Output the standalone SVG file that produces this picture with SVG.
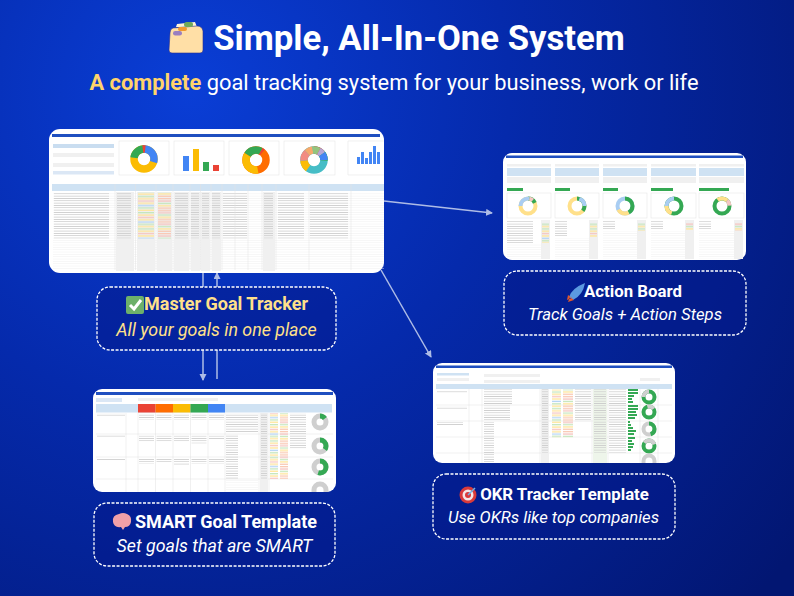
<svg xmlns="http://www.w3.org/2000/svg" width="794" height="596" viewBox="0 0 794 596">
<defs>
<radialGradient id="bg" gradientUnits="userSpaceOnUse" cx="190" cy="90" r="760"><stop offset="0" stop-color="#0a3ed6"/><stop offset="0.42" stop-color="#052aac"/><stop offset="1" stop-color="#021672"/></radialGradient>
<marker id="ah" markerWidth="8" markerHeight="8" refX="6" refY="3.500" orient="auto" markerUnits="userSpaceOnUse"><path d="M0 0L7 3.500L0 7Z" fill="#aebce6"/></marker>
<pattern id="rows" width="40" height="2.330" patternUnits="userSpaceOnUse"><rect width="40" height="0.700" fill="#c9c9c9"/></pattern>
<pattern id="grid" width="40" height="2.330" patternUnits="userSpaceOnUse"><rect width="40" height="0.400" fill="#ececec"/></pattern>
<pattern id="st" width="20" height="16.310" patternUnits="userSpaceOnUse"><rect width="20" height="1.300" fill="#c5e6bd"/><rect y="2.330" width="20" height="1.300" fill="#ffe599"/><rect y="4.660" width="20" height="1.300" fill="#f6c4bf"/><rect y="6.990" width="20" height="1.300" fill="#ffe599"/><rect y="9.320" width="20" height="1.300" fill="#b5d5f5"/><rect y="11.650" width="20" height="1.300" fill="#c5e6bd"/><rect y="13.980" width="20" height="1.300" fill="#ffe599"/></pattern>
<pattern id="pr" width="20" height="11.650" patternUnits="userSpaceOnUse"><rect width="20" height="1.300" fill="#f9c9b4"/><rect y="2.330" width="20" height="1.300" fill="#f6c4bf"/><rect y="4.660" width="20" height="1.300" fill="#c5e6bd"/><rect y="6.990" width="20" height="1.300" fill="#ffe599"/><rect y="9.320" width="20" height="1.300" fill="#f9c9b4"/></pattern>
</defs>
<style>
text{font-family:Roboto,"Liberation Sans",sans-serif}
.lab{fill:#03198a;fill-opacity:.55;stroke:#fff;stroke-width:1.3;stroke-dasharray:3 1.500}
.t{font-size:18px;font-weight:700;text-anchor:middle}
.s{font-size:17.800px;font-style:italic;text-anchor:middle}
.t2{font-size:16.800px}
.s2{font-size:16.700px}
.y{fill:#ffe08a}.w{fill:#fff}
.c{stroke:#aebce6;stroke-width:1.500;fill:none}
.scr{fill:#fff}
.hd{fill:#cfe2f3}.gr{fill:#f0f0f0}.bar{fill:#1f4fc0}
.card{fill:#fff;stroke:#e6e6e6;stroke-width:.6}
</style>
<rect width="794" height="596" fill="url(#bg)"/>
<g id="title">
<path d="M176 27L177 24L195 22L197 27Z" fill="#fff3d6"/>
<path d="M170 33Q170 29 173 28L197 26Q202 26 203 31V50Q203 53 200 53H172Q169 53 169 50Z" fill="#ffdfa6" stroke="#2a2f8f" stroke-width=".6"/>
<rect x="184" y="22" width="9" height="5" rx="2.500" fill="#6fa85a"/><rect x="178" y="27" width="9" height="4" rx="2" fill="#f29a2e"/><rect x="173" y="31" width="9" height="4.500" rx="2.200" fill="#9a7fc0"/>
<text x="419" y="50" font-size="34.700" font-weight="700" fill="#fff" text-anchor="middle">Simple, All-In-One System</text>
<text x="394" y="90" font-size="21.850" fill="#fff" text-anchor="middle"><tspan font-weight="700" fill="#ffd36b">A complete</tspan> goal tracking system for your business, work or life</text>
</g>
<g id="connectors">
<path class="c" d="M384 201L492 213" marker-end="url(#ah)"/>
<path class="c" d="M381 270L431 357" marker-end="url(#ah)"/>
<path class="c" d="M203 273V287"/><path class="c" d="M217 287V273" marker-end="url(#ah)"/>
<path class="c" d="M203 350V380" marker-end="url(#ah)"/><path class="c" d="M217 350V379"/>
</g>
<g id="master-sheet">
<rect class="scr" x="49" y="129" width="335" height="144" rx="11"/>
<rect class="bar" x="52" y="134" width="328" height="3"/>
<rect x="53" y="144" width="61" height="4" fill="#c9ddf0"/><rect class="gr" x="53" y="153" width="61" height="4"/><rect class="gr" x="53" y="163" width="61" height="4"/><rect x="53" y="171" width="61" height="3.500" fill="#dbe7f5"/>
<rect class="card" x="119" y="141" width="50" height="34"/><rect class="card" x="174" y="141" width="50" height="34"/><rect class="card" x="229" y="141" width="50" height="34"/><rect class="card" x="284" y="141" width="51" height="34"/><path class="card" d="M384 141H348V175H384"/>
<g stroke-width="7.500" fill="none">
<circle cx="144" cy="159" r="10" pathLength="100" stroke="#fbbc04"/>
<circle cx="144" cy="159" r="10" pathLength="100" stroke="#4285f4" stroke-dasharray="30 70" stroke-dashoffset="25"/>
<circle cx="144" cy="159" r="10" pathLength="100" stroke="#34a853" stroke-dasharray="23 77" stroke-dashoffset="-52"/>
<circle cx="144" cy="159" r="10" pathLength="100" stroke="#ea4335" stroke-dasharray="4 96" stroke-dashoffset="-73"/>
<circle cx="256" cy="160" r="10" pathLength="100" stroke="#ff6d01"/>
<circle cx="256" cy="160" r="10" pathLength="100" stroke="#fbbc04" stroke-dasharray="37 63" stroke-dashoffset="-22"/>
<circle cx="256" cy="160" r="10" pathLength="100" stroke="#34a853" stroke-dasharray="24 76" stroke-dashoffset="-59"/>
<circle cx="256" cy="160" r="10" pathLength="100" stroke="#ea4335" stroke-dasharray="3 97" stroke-dashoffset="-83"/>
<circle cx="314" cy="160" r="10" pathLength="100" stroke="#46bdc6"/>
<circle cx="314" cy="160" r="10" pathLength="100" stroke="#ea4335" stroke-dasharray="13 87" stroke-dashoffset="25"/>
<circle cx="314" cy="160" r="10" pathLength="100" stroke="#34a853" stroke-dasharray="13 87" stroke-dashoffset="12"/>
<circle cx="314" cy="160" r="10" pathLength="100" stroke="#fbbc04" stroke-dasharray="14 86" stroke-dashoffset="-35"/>
<circle cx="314" cy="160" r="10" pathLength="100" stroke="#f28b82" stroke-dasharray="14 86" stroke-dashoffset="-49"/>
<circle cx="314" cy="160" r="10" pathLength="100" stroke="#f6a96b" stroke-dasharray="10 90" stroke-dashoffset="-63"/>
<circle cx="314" cy="160" r="10" pathLength="100" stroke="#93c47d" stroke-dasharray="10 90" stroke-dashoffset="-73"/>
<circle cx="314" cy="160" r="10" pathLength="100" stroke="#b4a7d6" stroke-dasharray="7 93" stroke-dashoffset="-83"/>
<circle cx="314" cy="160" r="10" pathLength="100" stroke="#4285f4" stroke-dasharray="10 90" stroke-dashoffset="-90"/>
</g>
<rect x="183" y="156" width="6" height="15" fill="#4285f4"/><rect x="193" y="149" width="6" height="22" fill="#fbbc04"/><rect x="203" y="162" width="6" height="9" fill="#34a853"/><rect x="213" y="165" width="6" height="6" fill="#ea4335"/>
<g fill="#4285f4"><rect x="357" y="157" width="3" height="7"/><rect x="361" y="152" width="3" height="12"/><rect x="365" y="158" width="3" height="6"/><rect x="369" y="152" width="3" height="12"/><rect x="373" y="146" width="3" height="18"/><rect x="377" y="152" width="3" height="12"/></g>
<rect class="hd" x="52" y="184" width="332" height="7"/>
<rect x="53" y="192" width="331" height="78" fill="url(#grid)"/>
<rect class="gr" x="116" y="192" width="18" height="79"/><rect class="gr" x="137" y="192" width="18" height="79"/><rect class="gr" x="157" y="192" width="15" height="79"/><rect class="gr" x="174" y="192" width="15" height="79"/><rect class="gr" x="191" y="192" width="9" height="79"/><rect class="gr" x="201" y="192" width="9" height="79"/><rect class="gr" x="212" y="192" width="9" height="79"/><rect class="gr" x="263" y="192" width="12" height="79"/>
<rect x="54" y="192.500" width="55" height="46" fill="url(#rows)"/><rect x="117" y="192.500" width="14" height="46" fill="url(#rows)"/><rect x="175" y="192.500" width="13" height="46" fill="url(#rows)"/><rect x="191" y="192.500" width="8" height="46" fill="url(#rows)"/><rect x="202" y="192.500" width="7" height="46" fill="url(#rows)"/><rect x="212" y="192.500" width="8" height="46" fill="url(#rows)"/><rect x="223" y="192.500" width="24" height="46" fill="url(#rows)"/><rect x="264" y="192.500" width="9" height="46" fill="url(#rows)"/><rect x="278" y="192.500" width="26" height="46" fill="url(#rows)"/><rect x="310" y="192.500" width="38" height="46" fill="url(#rows)"/>
<rect x="138" y="192.500" width="16" height="46" fill="url(#st)"/><rect x="158" y="192.500" width="13" height="46" fill="url(#pr)"/>
<path d="M115 184V270M135.500 184V270M156 184V270M173 184V270M190 184V270M200.500 184V270M211 184V270M222 184V270M235 184V270M248 184V270M262 184V270M276 184V270M309 184V270M351 184V270" stroke="#e0e0e0" stroke-width=".5"/>
</g>
<g id="action-sheet">
<rect class="scr" x="503" y="153" width="243" height="107" rx="9"/>
<rect class="bar" x="506" y="155.500" width="237" height="2.500"/>
<rect class="gr" x="507" y="164" width="44" height="2.500"/><rect class="gr" x="555" y="164" width="44" height="2.500"/><rect class="gr" x="603" y="164" width="44" height="2.500"/><rect class="gr" x="651" y="164" width="45" height="2.500"/><rect class="gr" x="699" y="164" width="45" height="2.500"/>
<rect class="hd" x="507" y="168" width="44" height="8"/><rect class="hd" x="555" y="168" width="44" height="8"/><rect class="hd" x="603" y="168" width="44" height="8"/><rect class="hd" x="651" y="168" width="45" height="8"/><rect class="hd" x="699" y="168" width="45" height="8"/>
<rect class="gr" x="507" y="177" width="44" height="6"/><rect class="gr" x="555" y="177" width="44" height="6"/><rect class="gr" x="603" y="177" width="44" height="6"/><rect class="gr" x="651" y="177" width="45" height="6"/><rect class="gr" x="699" y="177" width="45" height="6"/>
<rect x="507" y="188" width="16" height="3" fill="#34a853"/><rect x="555" y="188" width="15" height="3" fill="#34a853"/><rect x="603" y="188" width="15" height="3" fill="#34a853"/><rect x="651" y="188" width="22" height="3" fill="#34a853"/><rect x="699" y="188" width="30" height="3" fill="#34a853"/>
<rect class="card" x="507" y="193" width="44" height="25"/><rect class="card" x="555" y="193" width="44" height="25"/><rect class="card" x="603" y="193" width="44" height="25"/><rect class="card" x="651" y="193" width="45" height="25"/><rect class="card" x="699" y="193" width="45" height="25"/>
<g fill="none" stroke-width="4">
<circle cx="528" cy="206" r="7.500" pathLength="100" stroke="#ffe08a"/>
<circle cx="528" cy="206" r="7.500" pathLength="100" stroke="#34a853" stroke-dasharray="18 82" stroke-dashoffset="25"/>
<circle cx="528" cy="206" r="7.500" pathLength="100" stroke="#a9cdf2" stroke-dasharray="28 72" stroke-dashoffset="-50"/>
<circle cx="528" cy="206" r="7.500" pathLength="100" stroke="#f4c7c3" stroke-dasharray="8 92" stroke-dashoffset="-78"/>
<circle cx="577" cy="206" r="7.500" pathLength="100" stroke="#ffe08a"/>
<circle cx="577" cy="206" r="7.500" pathLength="100" stroke="#34a853" stroke-dasharray="36 64" stroke-dashoffset="25"/>
<circle cx="577" cy="206" r="7.500" pathLength="100" stroke="#a9cdf2" stroke-dasharray="20 80" stroke-dashoffset="-80"/>
<circle cx="625" cy="206" r="7.500" pathLength="100" stroke="#a9cdf2"/>
<circle cx="625" cy="206" r="7.500" pathLength="100" stroke="#34a853" stroke-dasharray="42 58" stroke-dashoffset="25"/>
<circle cx="625" cy="206" r="7.500" pathLength="100" stroke="#ffe08a" stroke-dasharray="25 75" stroke-dashoffset="-17"/>
<circle cx="674" cy="206" r="7.500" pathLength="100" stroke="#34a853"/>
<circle cx="674" cy="206" r="7.500" pathLength="100" stroke="#ffe08a" stroke-dasharray="20 80" stroke-dashoffset="-30"/>
<circle cx="674" cy="206" r="7.500" pathLength="100" stroke="#a9cdf2" stroke-dasharray="25 75" stroke-dashoffset="-50"/>
<circle cx="722" cy="206" r="7.500" pathLength="100" stroke="#34a853"/>
<circle cx="722" cy="206" r="7.500" pathLength="100" stroke="#ffe08a" stroke-dasharray="22 78" stroke-dashoffset="-65"/>
<circle cx="722" cy="206" r="7.500" pathLength="100" stroke="#f4c7c3" stroke-dasharray="12 88" stroke-dashoffset="-87"/>
</g>
<rect class="gr" x="541" y="220" width="9" height="39"/><rect class="gr" x="589" y="220" width="9" height="39"/><rect class="gr" x="637" y="220" width="9" height="39"/><rect class="gr" x="685" y="220" width="9" height="39"/><rect class="gr" x="734" y="220" width="9" height="39"/>
<rect x="507" y="221" width="26" height="22" fill="url(#rows)"/><rect x="555" y="221" width="12" height="16" fill="url(#rows)"/><rect x="603" y="221" width="12" height="9" fill="url(#rows)"/><rect x="651" y="221" width="12" height="9" fill="url(#rows)"/><rect x="699" y="221" width="12" height="9" fill="url(#rows)"/>
<rect x="542" y="223" width="7" height="20" fill="url(#st)"/><rect x="590" y="223" width="7" height="14" fill="url(#st)"/><rect x="638" y="223" width="7" height="8" fill="url(#st)"/><rect x="686" y="223" width="7" height="7" fill="url(#pr)"/><rect x="735" y="223" width="7" height="8" fill="url(#pr)"/>
<rect x="507" y="243" width="34" height="16" fill="url(#grid)"/><rect x="555" y="238" width="34" height="21" fill="url(#grid)"/><rect x="603" y="231" width="34" height="28" fill="url(#grid)"/><rect x="651" y="231" width="34" height="28" fill="url(#grid)"/><rect x="699" y="231" width="35" height="28" fill="url(#grid)"/>
</g>
<g id="smart-sheet">
<rect class="scr" x="93" y="389" width="243" height="103" rx="9"/>
<rect class="bar" x="96" y="392" width="237" height="3"/>
<rect x="96" y="398" width="26" height="4" fill="#dbe7f5"/><rect class="gr" x="138" y="398" width="80" height="3"/>
<rect class="hd" x="96" y="404" width="236" height="8.500"/>
<rect x="138" y="404" width="17.500" height="8.500" fill="#ea4335"/><rect x="155.500" y="404" width="17.500" height="8.500" fill="#ff6d01"/><rect x="173" y="404" width="17.500" height="8.500" fill="#fbbc04"/><rect x="190.500" y="404" width="17.500" height="8.500" fill="#34a853"/><rect x="208" y="404" width="17" height="8.500" fill="#4285f4"/>
<path d="M96 434H333M96 457H333M96 479H333M126 413V492M138 413V492M155.500 413V492M173 413V492M190.500 413V492M208 413V492M225 413V492M259 413V492M269 413V492" stroke="#e0e0e0" stroke-width=".5"/>
<rect x="97" y="413" width="28" height="3" fill="url(#rows)"/><rect x="97" y="435" width="28" height="3" fill="url(#rows)"/><rect x="97" y="458" width="28" height="3" fill="url(#rows)"/>
<rect x="139" y="413.500" width="15" height="6" fill="url(#rows)"/><rect x="156.500" y="413.500" width="15" height="6" fill="url(#rows)"/><rect x="174" y="413.500" width="15" height="6" fill="url(#rows)"/><rect x="191.500" y="413.500" width="15" height="6" fill="url(#rows)"/><rect x="209" y="413.500" width="15" height="6" fill="url(#rows)"/>
<rect x="139" y="435.500" width="15" height="6" fill="url(#rows)"/><rect x="156.500" y="435.500" width="15" height="6" fill="url(#rows)"/><rect x="174" y="435.500" width="15" height="6" fill="url(#rows)"/><rect x="191.500" y="435.500" width="15" height="8" fill="url(#rows)"/><rect x="209" y="435.500" width="15" height="4" fill="url(#rows)"/>
<rect x="139" y="458" width="15" height="6" fill="url(#rows)"/><rect x="156.500" y="458" width="15" height="4" fill="url(#rows)"/><rect x="174" y="458" width="15" height="8" fill="url(#rows)"/><rect x="191.500" y="458" width="15" height="6" fill="url(#rows)"/><rect x="209" y="458" width="15" height="6" fill="url(#rows)"/>
<rect class="gr" x="260" y="413" width="8" height="79"/>
<rect x="226" y="413" width="32" height="19" fill="url(#rows)"/><rect x="226" y="434" width="12" height="45" fill="url(#rows)"/><rect x="226" y="479" width="32" height="13" fill="url(#grid)"/><rect x="261" y="413" width="6" height="66" fill="url(#rows)"/>
<rect x="270" y="413" width="8" height="66" fill="url(#st)"/><rect x="280" y="413" width="8" height="66" fill="url(#pr)"/><rect x="290" y="413" width="16" height="36" fill="url(#rows)"/>
<g fill="none" stroke-width="5">
<circle cx="320" cy="422" r="6" pathLength="100" stroke="#cfcfcf"/><circle cx="320" cy="422" r="6" pathLength="100" stroke="#34a853" stroke-dasharray="15 85" stroke-dashoffset="25"/>
<circle cx="320" cy="446" r="6" pathLength="100" stroke="#cfcfcf"/><circle cx="320" cy="446" r="6" pathLength="100" stroke="#34a853" stroke-dasharray="35 65" stroke-dashoffset="25"/>
<circle cx="320" cy="467" r="6" pathLength="100" stroke="#cfcfcf"/><circle cx="320" cy="467" r="6" pathLength="100" stroke="#34a853" stroke-dasharray="55 45" stroke-dashoffset="25"/>
</g>
<path d="M314 492V490A6 6 0 0 1 326 490V492" fill="none" stroke="#cfcfcf" stroke-width="5"/>
</g>
<g id="okr-sheet">
<rect class="scr" x="433" y="363" width="242" height="100" rx="9"/>
<rect class="bar" x="436" y="365.500" width="236" height="2.500"/>
<rect class="hd" x="437" y="373" width="32" height="2.500"/><rect class="gr" x="437" y="378" width="32" height="3"/><rect class="gr" x="484" y="374" width="56" height="3"/><rect class="gr" x="484" y="380" width="56" height="3"/><rect class="gr" x="640" y="378" width="20" height="3"/>
<rect class="hd" x="436" y="384" width="236" height="5"/>
<path d="M436 405H672M436 421H672M436 437H672M436 453H672M469 389V463M482 389V463M540 389V463M592 389V463M608 389V463M640 389V463M658 389V463" stroke="#e0e0e0" stroke-width=".5"/>
<rect x="437" y="390" width="30" height="3" fill="url(#rows)"/><rect x="437" y="406" width="30" height="3" fill="url(#rows)"/><rect x="437" y="422" width="26" height="3" fill="url(#rows)"/>
<rect x="484" y="389.500" width="28" height="15" fill="url(#rows)"/><rect x="484" y="405.500" width="26" height="15" fill="url(#rows)"/><rect x="484" y="422" width="10" height="41" fill="url(#rows)"/>
<rect class="gr" x="541" y="389" width="8" height="74"/><rect x="542" y="389.500" width="6" height="63" fill="url(#rows)"/>
<rect x="552" y="389.500" width="9" height="48" fill="url(#st)"/><rect x="563" y="389.500" width="10" height="48" fill="url(#pr)"/><rect x="575" y="389.500" width="16" height="32" fill="url(#rows)"/>
<rect x="593" y="389" width="14" height="74" fill="#eef5ea"/><rect x="594" y="389.500" width="12" height="63" fill="url(#rows)"/><rect x="609" y="389.500" width="17" height="63" fill="url(#rows)"/>
<g fill="#34a853"><rect x="628" y="389" width="10" height="2"/><rect x="628" y="392" width="10" height="2"/><rect x="628" y="395" width="6" height="2"/><rect x="628" y="398" width="4" height="2"/><rect x="628" y="401" width="5" height="2"/><rect x="628" y="405" width="10" height="2"/><rect x="628" y="408" width="10" height="2"/><rect x="628" y="411" width="8" height="2"/><rect x="628" y="414" width="9" height="2"/><rect x="628" y="417" width="7" height="2"/><rect x="628" y="421" width="2" height="2"/><rect x="628" y="424" width="3" height="2"/><rect x="628" y="427" width="5" height="2"/><rect x="628" y="430" width="8" height="2"/><rect x="628" y="433" width="6" height="2"/><rect x="628" y="437" width="7" height="2"/><rect x="628" y="440" width="4" height="2"/><rect x="628" y="443" width="6" height="2"/><rect x="628" y="446" width="5" height="2"/><rect x="628" y="449" width="3" height="2"/></g>
<g fill="none" stroke-width="4">
<circle cx="649" cy="397" r="5.500" pathLength="100" stroke="#34a853"/><circle cx="649" cy="397" r="5.500" pathLength="100" stroke="#cfcfcf" stroke-dasharray="25 75" stroke-dashoffset="-50"/>
<circle cx="649" cy="412" r="5.500" pathLength="100" stroke="#34a853"/><circle cx="649" cy="412" r="5.500" pathLength="100" stroke="#cfcfcf" stroke-dasharray="20 80" stroke-dashoffset="-70"/>
<circle cx="649" cy="429" r="5.500" pathLength="100" stroke="#cfcfcf"/><circle cx="649" cy="429" r="5.500" pathLength="100" stroke="#34a853" stroke-dasharray="45 55" stroke-dashoffset="25"/>
<circle cx="649" cy="446" r="5.500" pathLength="100" stroke="#34a853"/><circle cx="649" cy="446" r="5.500" pathLength="100" stroke="#cfcfcf" stroke-dasharray="35 65" stroke-dashoffset="-60"/>
</g>
<path d="M643.500 463V461A5.500 5.500 0 0 1 654.500 461V463" fill="none" stroke="#cfcfcf" stroke-width="4"/>
</g>
<g id="master-label">
<rect class="lab" x="97" y="287" width="239" height="63" rx="13"/>
<rect x="126" y="296" width="18" height="18" rx="2" fill="#6db06a"/><path d="M130 305l4 4l7-9" fill="none" stroke="#fff" stroke-width="3"/>
<text class="t y" x="226" y="310">Master Goal Tracker</text>
<text class="s y" x="216.500" y="336">All your goals in one place</text>
</g>
<g id="action-label">
<rect class="lab" x="504" y="271" width="242" height="64" rx="13"/>
<path d="M569 297Q572 288 585 283Q583 295 573 300Z" fill="#5b9ae0"/><path d="M568 295l-1 5l5-2zM574 300l-6 2l2-5z" fill="#e2572b"/>
<text class="t t2 w" x="633" y="297">Action Board</text>
<text class="s s2 w" x="625" y="320">Track Goals + Action Steps</text>
</g>
<g id="okr-label">
<rect class="lab" x="433" y="474" width="242" height="65" rx="13"/>
<circle cx="468" cy="495" r="8.500" fill="#d93a3a"/><circle cx="468" cy="495" r="5.500" fill="#f4e6e6"/><circle cx="468" cy="495" r="3" fill="#d93a3a"/><path d="M468 495L475 488" stroke="#6fb3e8" stroke-width="1.500"/>
<text class="t t2 w" x="564.500" y="500">OKR Tracker Template</text>
<text class="s s2 w" x="553.500" y="523">Use OKRs like top companies</text>
</g>
<g id="smart-label">
<rect class="lab" x="94" y="503" width="241" height="63" rx="13"/>
<path d="M113 522Q112 515 119 514Q123 512 127 514Q132 516 131 522Q130 527 125 527L123 530L121 527Q114 528 113 522Z" fill="#f0a0a8"/>
<text class="t w" x="226" y="528">SMART Goal Template</text>
<text class="s w" x="214.500" y="552">Set goals that are SMART</text>
</g>
</svg>
